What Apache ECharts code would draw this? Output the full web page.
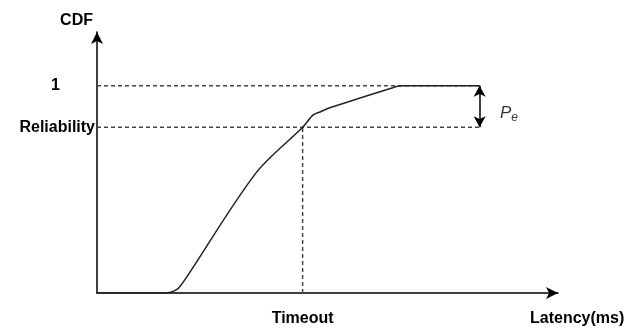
<!DOCTYPE html>
<html>
<head>
<meta charset="utf-8">
<script src="https://cdn.jsdelivr.net/npm/echarts@6/dist/echarts.min.js"></script>
<style>
  html, body { margin: 0; padding: 0; background: #fff; }
  #cdf { width: 640px; height: 328px; }
</style>
</head>
<body>
<div id="cdf"></div>
<script>
var dom = document.getElementById("cdf");
var myChart = echarts.init(dom);

// latency (arbitrary units) and CDF of the curve
var latency = [0, 14.5, 16, 17.5, 19, 34.5, 44.6, 46.9, 48.4, 50.5, 64, 66, 83];
var cdf = [0, 0, 0.004, 0.02, 0.062, 0.58, 0.8, 0.86, 0.874, 0.894, 0.99, 1, 1];

var timeout = 44.6;
var reliability = 0.8;
var cdfMax = 1;
var guideEnd = 83;      // where the dashed guides and P_e arrow stop
var peLabelPos = [87.4, 0.87];

var yTicks = [reliability, cdfMax];
var yTickNames = ['Reliability', '1'];
var xTicks = [timeout];
var xTickNames = ['Timeout'];

var font = "'Liberation Sans', Arial, sans-serif";

var curve = latency.map(function (x, i) { return [x, cdf[i]]; });

var dashStyle = {
	color: '#444',
	width: 1.5,
	type: [4, 3]
};

var boldText = {
	color: '#000',
	fontWeight: 'bold',
	fontSize: 16,
	fontFamily: font
};

option = {
	animation: false,
	grid: {
		left: 97,
		right: 82,
		top: 32,
		bottom: 35
	},
	xAxis: {
		type: 'value',
		min: 0,
		max: 100,
		splitLine: { show: false },
		axisTick: { show: false },
		axisLine: {
			symbol: ['none', 'arrow'],
			symbolSize: [9, 12],
			lineStyle: { color: '#000', width: 1.5 }
		},
		axisLabel: Object.assign({
			customValues: xTicks,
			formatter: function (v) {
				return xTickNames[xTicks.indexOf(v)];
			},
			margin: 18
		}, boldText),
		name: 'Latency(ms)',
		nameLocation: 'end',
		nameGap: -28,
		nameTextStyle: Object.assign({
			align: 'left',
			verticalAlign: 'top',
			padding: [18, 0, 0, 0]
		}, boldText)
	},
	yAxis: {
		type: 'value',
		min: 0,
		max: 1.26,
		splitLine: { show: false },
		axisTick: { show: false },
		axisLine: {
			symbol: ['none', 'arrow'],
			symbolSize: [9, 12],
			lineStyle: { color: '#000', width: 1.5 }
		},
		axisLabel: Object.assign({
			customValues: yTicks,
			formatter: function (v) {
				var name = yTickNames[yTicks.indexOf(v)];
				return v === cdfMax ? '{one|' + name + '}' : name;
			},
			margin: 2,
			rich: {
				one: Object.assign({ padding: [0, 35, 0, 0] }, boldText)
			}
		}, boldText),
		name: 'CDF',
		nameLocation: 'end',
		nameGap: 11,
		nameTextStyle: Object.assign({
			align: 'right',
			verticalAlign: 'middle',
			padding: [0, 4, 0, 0]
		}, boldText)
	},
	series: [{
		name: 'one',
		type: 'line',
		symbol: 'none',
		silent: true,
		lineStyle: dashStyle,
		data: [[0, cdfMax], [guideEnd, cdfMax]]
	}, {
		name: 'reliability',
		type: 'line',
		symbol: 'none',
		silent: true,
		lineStyle: dashStyle,
		data: [[0, reliability], [guideEnd, reliability]]
	}, {
		name: 'timeout',
		type: 'line',
		symbol: 'none',
		silent: true,
		lineStyle: dashStyle,
		data: [[timeout, 0], [timeout, reliability]]
	}, {
		name: 'CDF',
		type: 'line',
		symbol: 'none',
		smooth: 0.3,
		lineStyle: { color: '#222', width: 1.5 },
		data: curve,
		markLine: {
			silent: true,
			symbol: ['arrow', 'arrow'],
			symbolSize: [9, 11],
			label: { show: false },
			lineStyle: { color: '#000', width: 1.5, type: 'solid' },
			data: [[{ coord: [guideEnd, cdfMax] }, { coord: [guideEnd, reliability] }]]
		}
	}, {
		name: 'Pe',
		type: 'scatter',
		symbolSize: 0,
		silent: true,
		label: {
			show: true,
			position: 'right',
			distance: 0,
			formatter: '{p|P}{e|e}',
			rich: {
				p: {
					color: '#000',
					fontStyle: 'italic',
					fontSize: 17,
					fontFamily: font
				},
				e: {
					color: '#000',
					fontStyle: 'italic',
					fontSize: 12,
					fontFamily: font,
					padding: [10, 0, 0, 0]
				}
			}
		},
		data: [peLabelPos]
	}]
};

if (option && typeof option === "object") {
	myChart.setOption(option, true);
}
</script>
</body>
</html>
